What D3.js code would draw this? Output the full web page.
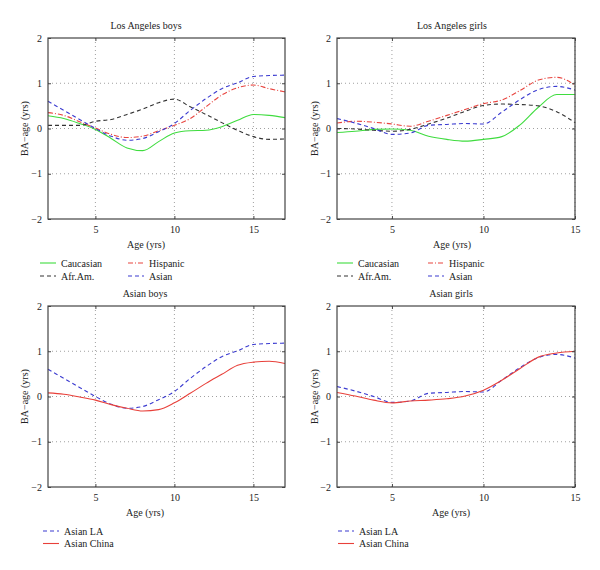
<!DOCTYPE html>
<html>
<head>
<meta charset="utf-8">
<script src="https://cdn.jsdelivr.net/npm/d3@7"></script>
<style>
  body { margin: 0; background: #fff; }
  svg text { font-family: "Liberation Serif", "DejaVu Serif", serif; fill: #222; }
</style>
</head>
<body>
<div id="vis"></div>
<script>
const WIDTH = 600;
const HEIGHT = 570;

// ages on the x axis
const boysAges = [2, 3, 4, 5, 6, 7, 8, 9, 10, 11, 12, 13, 14, 15, 16, 17];
const girlsAges = [2, 3, 4, 5, 6, 7, 8, 9, 10, 11, 12, 13, 14, 15];

// BA - age (yrs)
const laBoysCaucasian = [0.28, 0.22, 0.11, -0.02, -0.22, -0.43, -0.49, -0.29, -0.1, -0.05, -0.04, 0.04, 0.18, 0.31, 0.29, 0.24];
const laBoysAfrAm = [0.07, 0.07, 0.07, 0.16, 0.2, 0.31, 0.43, 0.57, 0.65, 0.48, 0.31, 0.13, -0.04, -0.18, -0.24, -0.23];
const laBoysHispanic = [0.35, 0.29, 0.15, 0.01, -0.13, -0.2, -0.17, -0.05, 0.07, 0.22, 0.48, 0.74, 0.9, 0.96, 0.88, 0.81];
const laBoysAsian = [0.6, 0.4, 0.2, 0.0, -0.17, -0.26, -0.22, -0.07, 0.11, 0.4, 0.66, 0.88, 1.01, 1.15, 1.17, 1.18];
const chinaBoysAsian = [0.08, 0.05, -0.01, -0.08, -0.18, -0.26, -0.32, -0.29, -0.14, 0.07, 0.29, 0.49, 0.69, 0.76, 0.78, 0.73];

const laGirlsCaucasian = [-0.09, -0.06, -0.02, -0.01, -0.04, -0.17, -0.24, -0.28, -0.24, -0.18, 0.08, 0.47, 0.75, 0.75];
const laGirlsAfrAm = [0.0, -0.01, -0.04, -0.06, -0.02, 0.1, 0.23, 0.38, 0.51, 0.54, 0.53, 0.5, 0.37, 0.13];
const laGirlsHispanic = [0.12, 0.16, 0.14, 0.1, 0.05, 0.16, 0.29, 0.42, 0.55, 0.63, 0.84, 1.07, 1.13, 0.96];
const laGirlsAsian = [0.22, 0.12, 0.0, -0.13, -0.1, 0.07, 0.09, 0.11, 0.1, 0.36, 0.64, 0.86, 0.93, 0.85];
const chinaGirlsAsian = [0.09, 0.01, -0.08, -0.14, -0.1, -0.08, -0.05, 0.01, 0.14, 0.36, 0.62, 0.87, 0.96, 1.0];

const yTicks = [-2, -1, 0, 1, 2];
const xTicks = [5, 10, 15];

const STYLES = {
  caucasian: {color: "#3fdc3f", dash: null},
  afram: {color: "#333333", dash: "4,3"},
  hispanic: {color: "#e8453f", dash: "5,2,1,2"},
  asian: {color: "#3b3bd0", dash: "4,3"},
  china: {color: "#e8403a", dash: null}
};

const panels = [
  {title: "Los Angeles boys", x: 48, y: 38, w: 237, h: 181, titleX: 146, ylabX: 25, ages: boysAges,
   series: [["Caucasian", laBoysCaucasian, "caucasian"], ["Afr.Am.", laBoysAfrAm, "afram"],
            ["Hispanic", laBoysHispanic, "hispanic"], ["Asian", laBoysAsian, "asian"]],
   legend: {x: 40, y: 263, col2: 128, twoCol: true}},
  {title: "Los Angeles girls", x: 337, y: 38, w: 238, h: 181, titleX: 452, ylabX: 315, ages: girlsAges,
   series: [["Caucasian", laGirlsCaucasian, "caucasian"], ["Afr.Am.", laGirlsAfrAm, "afram"],
            ["Hispanic", laGirlsHispanic, "hispanic"], ["Asian", laGirlsAsian, "asian"]],
   legend: {x: 337, y: 263, col2: 428, twoCol: true}},
  {title: "Asian boys", x: 48, y: 306, w: 237, h: 181, titleX: 145, ylabX: 25, ages: boysAges,
   series: [["Asian LA", laBoysAsian, "asian"], ["Asian China", chinaBoysAsian, "china"]],
   legend: {x: 43, y: 531, twoCol: false}},
  {title: "Asian girls", x: 337, y: 306, w: 238, h: 181, titleX: 451, ylabX: 315, ages: girlsAges,
   series: [["Asian LA", laGirlsAsian, "asian"], ["Asian China", chinaGirlsAsian, "china"]],
   legend: {x: 338, y: 531, twoCol: false}}
];

const svg = d3.select("#vis").append("svg")
  .attr("width", WIDTH)
  .attr("height", HEIGHT);

panels.forEach(function (p) {
  const xScale = d3.scaleLinear().domain([p.ages[0], p.ages[p.ages.length - 1]]).range([0, p.w]);
  const yScale = d3.scaleLinear().domain([-2, 2]).range([p.h, 0]);

  const g = svg.append("g").attr("transform", "translate(" + p.x + "," + p.y + ")");

  // dotted grid
  g.selectAll(".gx").data(xTicks).enter().append("line")
    .attr("x1", d => xScale(d)).attr("x2", d => xScale(d))
    .attr("y1", 0).attr("y2", p.h)
    .attr("stroke", "#888").attr("stroke-width", 0.8).attr("stroke-dasharray", "1,3");
  g.selectAll(".gy").data([-1, 0, 1]).enter().append("line")
    .attr("x1", 0).attr("x2", p.w)
    .attr("y1", d => yScale(d)).attr("y2", d => yScale(d))
    .attr("stroke", "#888").attr("stroke-width", 0.8).attr("stroke-dasharray", "1,3");

  // series
  const line = d3.line()
    .x((d, i) => xScale(p.ages[i]))
    .y(d => yScale(d))
    .curve(d3.curveMonotoneX);

  p.series.forEach(function (s) {
    const st = STYLES[s[2]];
    g.append("path")
      .datum(s[1])
      .attr("d", line)
      .attr("fill", "none")
      .attr("stroke", st.color)
      .attr("stroke-width", 1.1)
      .attr("stroke-dasharray", st.dash);
  });

  // axes with inward ticks on all sides
  const bottom = g.append("g").attr("transform", "translate(0," + p.h + ")")
    .call(d3.axisBottom(xScale).tickValues(xTicks).tickSizeInner(-3).tickSizeOuter(0).tickPadding(7));
  const top = g.append("g")
    .call(d3.axisTop(xScale).tickValues(xTicks).tickSizeInner(-3).tickSizeOuter(0).tickFormat(""));
  const left = g.append("g")
    .call(d3.axisLeft(yScale).tickValues(yTicks).tickSizeInner(-3).tickSizeOuter(0).tickPadding(6)
      .tickFormat(d => d < 0 ? "\u2212" + Math.abs(d) : d));
  const right = g.append("g").attr("transform", "translate(" + p.w + ",0)")
    .call(d3.axisRight(yScale).tickValues(yTicks).tickSizeInner(-3).tickSizeOuter(0).tickFormat(""));

  [bottom, top, left, right].forEach(function (a) {
    a.select(".domain").remove();
    a.selectAll("line").attr("stroke", "#444");
    a.selectAll("text").attr("font-size", "10px").attr("font-family", "Liberation Serif, serif").attr("fill", "#222");
  });

  // frame
  g.append("rect")
    .attr("width", p.w).attr("height", p.h)
    .attr("fill", "none").attr("stroke", "#444").attr("stroke-width", 1.2);

  // title and labels
  svg.append("text")
    .attr("x", p.titleX).attr("y", p.y - 9)
    .attr("text-anchor", "middle").attr("font-size", "10px")
    .text(p.title);
  svg.append("text")
    .attr("x", p.titleX).attr("y", p.y + p.h + 29)
    .attr("text-anchor", "middle").attr("font-size", "10px")
    .text("Age (yrs)");
  svg.append("text")
    .attr("transform", "translate(" + (p.ylabX + 3) + "," + (p.y + p.h / 2) + ") rotate(-90)")
    .attr("text-anchor", "middle").attr("font-size", "10px")
    .text("BA\u2212age (yrs)");

  // legend
  const lg = svg.append("g");
  p.series.forEach(function (s, i) {
    const st = STYLES[s[2]];
    let lx, ly;
    if (p.legend.twoCol) {
      // order: Caucasian, Afr.Am. in col 1; Hispanic, Asian in col 2
      lx = i < 2 ? p.legend.x : p.legend.col2;
      ly = p.legend.y + (i % 2) * 13;
    } else {
      lx = p.legend.x;
      ly = p.legend.y + i * 12.5;
    }
    lg.append("line")
      .attr("x1", lx).attr("x2", lx + 16)
      .attr("y1", ly).attr("y2", ly)
      .attr("stroke", st.color).attr("stroke-width", 1.1)
      .attr("stroke-dasharray", st.dash);
    lg.append("text")
      .attr("x", lx + 21).attr("y", ly + 3.5)
      .attr("font-size", "10px")
      .text(s[0]);
  });
});
</script>
</body>
</html>
